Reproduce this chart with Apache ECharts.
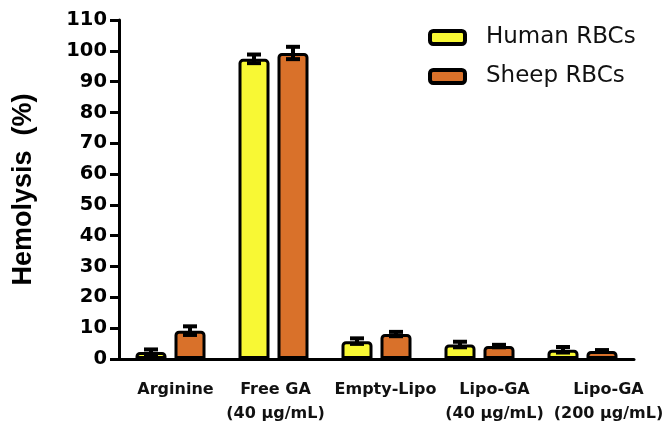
<!DOCTYPE html>
<html>
<head>
<meta charset="utf-8">
<script src="https://cdn.jsdelivr.net/npm/echarts@6/dist/echarts.min.js"></script>
<style>
html,body{margin:0;padding:0;background:#fff;}
#chart{width:663px;height:424px;}
</style>
</head>
<body>
<div id="chart"></div>
<script>
const categories = ['Arginine', 'Free GA\n(40 \u03bcg/mL)', 'Empty-Lipo', 'Lipo-GA\n(40 \u03bcg/mL)', 'Lipo-GA\n(200 \u03bcg/mL)'];
const humanValues = [2.3, 97.4, 5.8, 4.7, 3.0];
const humanErrors = [0.8, 1.4, 0.9, 0.9, 0.9];
const sheepValues = [9.2, 99.3, 8.1, 4.2, 2.6];
const sheepErrors = [1.4, 2.0, 0.7, 0.4, 0.3];
const yTicks = [0, 10, 20, 30, 40, 50, 60, 70, 80, 90, 100, 110];

const BAR_W = 31;
const GAP_PX = 8;
const OFFSET = (BAR_W + GAP_PX) / 2;

function errorSeries(values, errors, dir) {
  return {
    type: 'custom',
    z: 5,
    silent: true,
    encode: { x: 0, y: 1 },
    data: values.map((v, i) => [i, v, errors[i]]),
    renderItem: function (params, api) {
      const idx = api.value(0), v = api.value(1), e = api.value(2);
      const top = api.coord([idx, v + e]);
      const bot = api.coord([idx, v - e]);
      const x = top[0] + dir * OFFSET;
      const cap = 7;
      const st = { stroke: '#000', lineWidth: 4 };
      return {
        type: 'group',
        children: [
          { type: 'line', shape: { x1: x, y1: top[1], x2: x, y2: bot[1] }, style: { stroke: '#000', lineWidth: 4 } },
          { type: 'line', shape: { x1: x - cap, y1: top[1], x2: x + cap, y2: top[1] }, style: st },
          { type: 'line', shape: { x1: x - cap, y1: bot[1], x2: x + cap, y2: bot[1] }, style: st }
        ]
      };
    }
  };
}

// label shift (px, doubled as left padding) to follow the reference's label placement
const labelShift = [10, 4, 18, 30, 52];
const labelRich = {};
labelShift.forEach((p, i) => {
  labelRich['c' + i] = {
    fontFamily: 'DejaVu Sans', fontWeight: 'bold', fontSize: 16, lineHeight: 24,
    color: '#111', padding: [0, 0, 0, p]
  };
});

const chart = echarts.init(document.getElementById('chart'), null, { renderer: 'canvas' });
chart.setOption({
  animation: false,
  backgroundColor: '#fff',
  grid: { left: 119, right: 29, top: 20, bottom: 65, containLabel: false, outerBoundsMode: 'none' },
  legend: {
    orient: 'vertical',
    left: 423,
    top: 21,
    icon: 'roundRect',
    itemWidth: 35,
    itemHeight: 13,
    itemGap: 16,
    itemStyle: { borderColor: '#000', borderWidth: 4 },
    textStyle: { fontFamily: 'DejaVu Sans', fontSize: 23, color: '#111', padding: [0, 0, 0, 16] },
    data: ['Human RBCs', 'Sheep RBCs']
  },
  xAxis: {
    type: 'category',
    data: categories,
    axisLine: { lineStyle: { color: '#000', width: 3 } },
    axisTick: { alignWithLabel: true, length: 9, lineStyle: { color: '#000', width: 3 } },
    axisLabel: {
      interval: 0,
      margin: 19,
      fontFamily: 'DejaVu Sans',
      fontWeight: 'bold',
      fontSize: 16,
      lineHeight: 24,
      color: '#111',
      formatter: function (value, index) {
        return value.split('\n').map(s => '{c' + index + '|' + s + '}').join('\n');
      },
      rich: labelRich
    }
  },
  yAxis: {
    type: 'value',
    min: yTicks[0],
    max: yTicks[yTicks.length - 1],
    interval: 10,
    name: 'Hemolysis  (%)',
    nameLocation: 'middle',
    nameGap: 82,
    nameTextStyle: { fontFamily: 'Liberation Sans', fontWeight: 'bold', fontSize: 27, color: '#000' },
    axisLine: { show: true, lineStyle: { color: '#000', width: 3 } },
    axisTick: { show: true, length: 9, lineStyle: { color: '#000', width: 3 } },
    splitLine: { show: false },
    axisLabel: { margin: 12, fontFamily: 'DejaVu Sans', fontWeight: 'bold', fontSize: 19.5, color: '#000' }
  },
  series: [
    {
      name: 'Human RBCs',
      type: 'bar',
      barWidth: BAR_W,
      barGap: (GAP_PX / BAR_W * 100) + '%',
      data: humanValues,
      itemStyle: { color: '#F8F834', borderColor: '#000', borderWidth: 3, borderRadius: [3, 3, 0, 0] }
    },
    {
      name: 'Sheep RBCs',
      type: 'bar',
      barWidth: BAR_W,
      barGap: (GAP_PX / BAR_W * 100) + '%',
      data: sheepValues,
      itemStyle: { color: '#D9712A', borderColor: '#000', borderWidth: 3, borderRadius: [3, 3, 0, 0] }
    },
    errorSeries(humanValues, humanErrors, -1),
    errorSeries(sheepValues, sheepErrors, 1)
  ]
});
</script>
</body>
</html>
